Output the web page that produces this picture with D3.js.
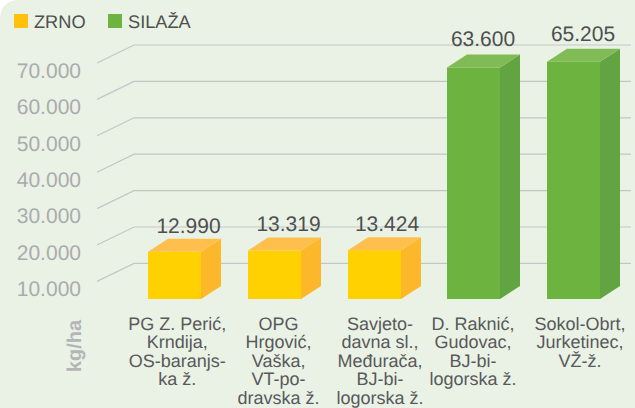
<!DOCTYPE html>
<html><head><meta charset="utf-8">
<script src="https://cdn.jsdelivr.net/npm/d3@7"></script>
<style>html,body{margin:0;padding:0;background:#fff}svg{display:block}text{font-family:"Liberation Sans",Arial,sans-serif;text-rendering:geometricPrecision}</style>
</head><body><svg id="c" width="635" height="408"></svg>
<script>
const categories=[
 ["PG Z. Perić,","Krndija,","OS-baranjs-","ka ž."],
 ["OPG","Hrgović,","Vaška,","VT-po-","dravska ž."],
 ["Savjeto-","davna sl.,","Međurača,","BJ-bi-","logorska ž."],
 ["D. Raknić,","Gudovac,","BJ-bi-","logorska ž."],
 ["Sokol-Obrt,","Jurketinec,","VŽ-ž."]];
const values=[12990,13319,13424,63600,65205];
const valueLabels=["12.990","13.319","13.424","63.600","65.205"];
const series=["ZRNO","ZRNO","ZRNO","SILAŽA","SILAŽA"];
const legendNames=["ZRNO","SILAŽA"];
const ticks=[10000,20000,30000,40000,50000,60000,70000];
const tickLabels=["10.000","20.000","30.000","40.000","50.000","60.000","70.000"];
const palette={ZRNO:{front:"#ffd100",side:"#fdb72b",top:"#ffbf4d",legend:"#ffc00e"},SILAŽA:{front:"#6db33f",side:"#62a342",top:"#80bb55",legend:"#6db33f"}};

const svg=d3.select("#c");
const W=635,H=408,R=20;
svg.append("path").attr("fill","#eaf2e5")
 .attr("d",`M0,${H}V${R}Q0,0 ${R},0H${W}V${H}Z`);

const y=d3.scaleLinear().domain([0,70000]).range([299,44.2]);
const gd={dx:37,dy:-18}, bd={dx:20,dy:-13};
const frontX=97, backX=134, rightX=631;

const grid=svg.append("g").attr("stroke","#c3c6c6").attr("stroke-width",1.2).attr("fill","none");
ticks.forEach(t=>{
  const by=y(t)+0.8;
  grid.append("path").attr("d",`M${frontX},${by-gd.dy}L${backX},${by}H${rightX}`);
});
svg.append("g").selectAll("text").data(ticks).join("text")
 .attr("x",81).attr("y",t=>y(t)+33.5).attr("text-anchor","end")
 .attr("font-size",21).attr("fill","#a9abae")
 .text((t,i)=>tickLabels[i]);

const bw=53, cx=i=>[148,248,348,447,547][i];
const labelDx=[14,14,12.5,9.5,9.5], labelDy=[19,19.5,19.5,21.8,20.7];
const bars=svg.append("g").selectAll("g").data(values).join("g");
bars.append("rect").attr("x",(d,i)=>cx(i)).attr("y",d=>y(d)).attr("width",bw)
 .attr("height",d=>y(0)-y(d)).attr("fill",(d,i)=>palette[series[i]].front);
bars.append("path").attr("fill",(d,i)=>palette[series[i]].side)
 .attr("d",(d,i)=>{const r=cx(i)+bw;return `M${r},${y(d)}l${bd.dx},${bd.dy}V${y(0)+bd.dy}L${r},${y(0)}Z`;});
bars.append("path").attr("fill",(d,i)=>palette[series[i]].top)
 .attr("d",(d,i)=>`M${cx(i)},${y(d)}l${bd.dx},${bd.dy}h${bw}l${-bd.dx},${-bd.dy}Z`);
bars.append("text").attr("x",(d,i)=>cx(i)+bw/2+labelDx[i]).attr("y",(d,i)=>y(d)-labelDy[i])
 .attr("text-anchor","middle").attr("font-size",21).attr("fill","#4d4f50")
 .text((d,i)=>valueLabels[i]);

const catCx=[177.3,278.6,380,473,580];
const cg=svg.append("g").selectAll("text").data(categories).join("text")
 .attr("text-anchor","middle").attr("font-size",18).attr("fill","#58595b");
cg.selectAll("tspan").data((d,i)=>d.map((s,j)=>({s,j,i}))).join("tspan")
 .attr("x",d=>catCx[d.i]).attr("y",d=>330+d.j*18.4).text(d=>d.s);

svg.append("text").attr("transform","translate(81,346) rotate(-90)")
 .attr("text-anchor","middle").attr("font-size",20).attr("font-weight","bold")
 .attr("fill","#b3b5b7").text("kg/ha");

const legX=[14,108];
const lg=svg.append("g").selectAll("g").data(legendNames).join("g");
lg.append("rect").attr("x",(d,i)=>legX[i]).attr("y",14).attr("width",14).attr("height",14)
 .attr("fill",d=>palette[d].legend);
lg.append("text").attr("x",(d,i)=>legX[i]+20).attr("y",28).attr("font-size",18.2)
 .attr("fill","#4d4f50").text(d=>d);
</script></body></html>
